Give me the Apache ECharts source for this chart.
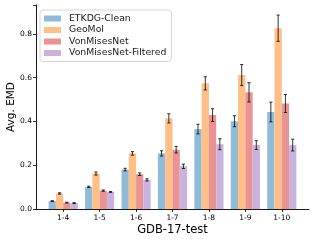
<!DOCTYPE html>
<html><head><meta charset="utf-8">
<script src="https://cdn.jsdelivr.net/npm/echarts@6/dist/echarts.min.js"></script>
<style>html,body{margin:0;padding:0;background:#fff}#c{width:315px;height:241px}</style>
</head><body><div id="c"></div>
<script>
const categories = ['1-4','1-5','1-6','1-7','1-8','1-9','1-10'];
const seriesNames = ['ETKDG-Clean','GeoMol','VonMisesNet','VonMisesNet-Filtered'];
const etkdg = [0.036,0.101,0.180,0.254,0.365,0.401,0.443];
const geomol = [0.071,0.162,0.254,0.414,0.574,0.612,0.826];
const vmn = [0.029,0.084,0.159,0.271,0.429,0.533,0.482];
const vmnf = [0.027,0.078,0.133,0.195,0.296,0.292,0.292];
const etkdgErr = [0.002,0.003,0.006,0.012,0.022,0.025,0.045];
const geomolErr = [0.003,0.007,0.008,0.021,0.030,0.048,0.060];
const vmnErr = [0.002,0.003,0.006,0.015,0.029,0.044,0.041];
const vmnfErr = [0.002,0.002,0.005,0.010,0.025,0.020,0.027];
const yTicks = [0.0,0.2,0.4,0.6,0.8];

const values = [etkdg, geomol, vmn, vmnf];
const errs = [etkdgErr, geomolErr, vmnErr, vmnfErr];
const colors = ['#8fbbd9','#ffbf86','#ea9393','#c9b3de'];
const FONT = 'DejaVu Sans';
const YMAX = 0.932;

const errData = [];
values.forEach((arr, s) => arr.forEach((v, i) => errData.push([i, s, v, errs[s][i]])));

const chart = echarts.init(document.getElementById('c'), null, {renderer:'canvas'});
chart.setOption({
  animation: false,
  textStyle: {fontFamily: FONT},
  grid: [
    {left: 36, right: 6, top: 5, bottom: 32, containLabel: false, outerBoundsMode: 'none'},
    {left: 45, right: 15, top: 5, bottom: 32, containLabel: false, outerBoundsMode: 'none'}
  ],
  legend: {
    data: seriesNames,
    left: 40, top: 10,
    orient: 'vertical',
    itemWidth: 17, itemHeight: 6, itemGap: 2.5,
    padding: [4, 5, 4, 4],
    borderColor: '#d6d6d6', borderWidth: 1, borderRadius: 3,
    backgroundColor: 'rgba(255,255,255,0.8)',
    textStyle: {fontFamily: FONT, fontSize: 9.3, color: '#1a1a1a', padding: [0,0,0,3]},
    icon: 'rect'
  },
  xAxis: [
    {gridIndex: 0, type: 'value', min: 0, max: 1, axisLine: {show: true, lineStyle: {color: '#000', width: 0.9}},
     axisTick: {show: false}, axisLabel: {show: false}, splitLine: {show: false}},
    {gridIndex: 1, type: 'category', data: categories,
     name: 'GDB-17-test', nameLocation: 'middle', nameGap: 15, nameMoveOverlap: false,
     nameTextStyle: {fontFamily: FONT, fontSize: 11.5, color: '#000'},
     axisLine: {show: false},
     axisTick: {show: true, alignWithLabel: true, length: 3, lineStyle: {color: '#000', width: 0.8}},
     axisLabel: {fontFamily: FONT, fontSize: 7.5, color: '#000', margin: 5}}
  ],
  yAxis: [
    {gridIndex: 0, type: 'value', min: 0, max: YMAX, interval: 0.2,
     name: 'Avg. EMD', nameLocation: 'middle', nameGap: 19, nameMoveOverlap: false,
     nameTextStyle: {fontFamily: FONT, fontSize: 10.5, color: '#000'},
     axisLine: {show: true, lineStyle: {color: '#000', width: 0.9}},
     axisTick: {show: true, length: 3, lineStyle: {color: '#000', width: 0.8}},
     axisLabel: {fontFamily: FONT, fontSize: 7.5, color: '#000', margin: 4,
       formatter: v => (yTicks.some(t => Math.abs(t - v) < 1e-9) ? v.toFixed(1) : '')},
     splitLine: {show: false}},
    {gridIndex: 1, type: 'value', min: 0, max: YMAX, show: false}
  ],
  series: values.map((arr, s) => ({
    name: seriesNames[s], type: 'bar', xAxisIndex: 1, yAxisIndex: 1,
    data: arr, barWidth: '20%', barGap: '0%',
    itemStyle: {color: colors[s]}
  })).concat([{
    type: 'custom', xAxisIndex: 1, yAxisIndex: 1, silent: true,
    data: errData, z: 10,
    renderItem: function(params, api) {
      const c = api.value(0), s = api.value(1), v = api.value(2), e = api.value(3);
      const bw = api.size([1, 0])[0] * 0.2;
      const off = (s - 1.5) * bw;
      const top = api.coord([c, v + e]);
      const bot = api.coord([c, v - e]);
      const x = top[0] + off;
      const cap = 1.6;
      const st = {stroke: 'rgba(0,0,0,0.8)', lineWidth: 1};
      return {type: 'group', children: [
        {type: 'line', shape: {x1: x, y1: top[1], x2: x, y2: bot[1]}, style: st},
        {type: 'line', shape: {x1: x - cap, y1: top[1], x2: x + cap, y2: top[1]}, style: st},
        {type: 'line', shape: {x1: x - cap, y1: bot[1], x2: x + cap, y2: bot[1]}, style: st}
      ]};
    }
  }])
});
</script></body></html>
